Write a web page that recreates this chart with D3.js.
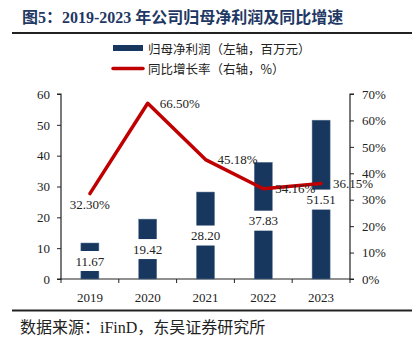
<!DOCTYPE html>
<html>
<head>
<meta charset="utf-8">
<script src="https://cdn.jsdelivr.net/npm/d3@7"></script>
<style>
  body { margin: 0; background: #fff; }
  svg text { font-family: "Liberation Serif", "Noto Sans CJK SC", serif; }
</style>
</head>
<body>
<svg id="chart"></svg>
<script>
var years = ['2019', '2020', '2021', '2022', '2023']
var profit = [11.67, 19.42, 28.20, 37.83, 51.51]
var growth = [32.30, 66.50, 45.18, 34.16, 36.15]
var leftTicks = [0, 10, 20, 30, 40, 50, 60]
var rightTicks = [0, 10, 20, 30, 40, 50, 60, 70]

var width = 414, height = 343
var plotL = 61, plotR = 350, plotT = 94, plotB = 279
var navy = '#17375e', red = '#c00000'

var svg = d3.select('#chart').attr('width', width).attr('height', height)

// title + rules
svg.append('text')
    .attr('x', 22).attr('y', 23)
    .attr('font-size', 16).attr('font-weight', 'bold')
    .attr('fill', '#1f3864')
    .text('图5：2019-2023 年公司归母净利润及同比增速')
svg.append('line').attr('x1', 12).attr('x2', 412).attr('y1', 33).attr('y2', 33)
    .attr('stroke', '#222').attr('stroke-width', 2)
svg.append('line').attr('x1', 12).attr('x2', 412).attr('y1', 310.5).attr('y2', 310.5)
    .attr('stroke', '#222').attr('stroke-width', 2)
svg.append('text')
    .attr('x', 20).attr('y', 332.5)
    .attr('font-size', 16).attr('fill', '#222')
    .text('数据来源：iFinD，东吴证券研究所')

// legend
var lg = svg.append('g').attr('font-size', 12.5).attr('fill', '#222')
lg.append('rect').attr('x', 113).attr('y', 45).attr('width', 30).attr('height', 6).attr('fill', navy)
lg.append('text').attr('x', 148).attr('y', 53.5).style('font-family', '"Noto Sans CJK SC"').text('归母净利润（左轴，百万元）')
lg.append('line').attr('x1', 113).attr('x2', 143).attr('y1', 68.5).attr('y2', 68.5)
    .attr('stroke', red).attr('stroke-width', 3.5).attr('stroke-linecap', 'round')
lg.append('text').attr('x', 148).attr('y', 73.5).style('font-family', '"Noto Sans CJK SC"').text('同比增长率（右轴，%）')

var x = d3.scaleBand().domain(years).range([plotL, plotR])
var y = d3.scaleLinear().domain([0, 60]).range([plotB, plotT])
var y2 = d3.scaleLinear().domain([0, 70]).range([plotB, plotT])

// axes
var ax = svg.append('g').attr('transform', 'translate(' + plotL + ',0)')
    .call(d3.axisLeft(y).tickValues(leftTicks).tickSize(4).tickPadding(7))
var ax2 = svg.append('g').attr('transform', 'translate(' + plotR + ',0)')
    .call(d3.axisRight(y2).tickValues(rightTicks).tickSize(4).tickPadding(8).tickFormat(d => d + '%'))
var xb = svg.append('g').attr('transform', 'translate(0,' + plotB + ')')
    .call(d3.axisBottom(x).tickSize(0).tickPadding(14))
xb.selectAll('.tick').append('line')
    .attr('x1', x.bandwidth() / 2).attr('x2', x.bandwidth() / 2).attr('y1', 0).attr('y2', 4)
    .attr('stroke', '#222')
xb.append('line').attr('x1', plotL).attr('x2', plotL).attr('y1', 0).attr('y2', 4).attr('stroke', '#222')

;[ax, ax2, xb].forEach(function(a) {
    a.select('.domain').attr('stroke', '#222').attr('stroke-width', 1.2)
    a.selectAll('.tick line').attr('stroke', '#222')
    a.selectAll('text').attr('font-size', 13).attr('fill', '#222')
        .style('font-family', '"Liberation Serif", serif')
})
ax.select('.domain').attr('d', 'M-4,' + plotT + 'H0V' + plotB + 'H-4')
ax2.select('.domain').attr('d', 'M4,' + plotT + 'H0V' + plotB + 'H4')
xb.select('.domain').attr('d', 'M' + (plotL - 1) + ',0H' + plotR)

// bars
var bw = 18
var bars = svg.append('g')
bars.selectAll('rect.bar').data(profit).enter().append('rect')
    .attr('class', 'bar')
    .attr('x', (d, i) => x(years[i]) + x.bandwidth() / 2 - bw / 2)
    .attr('width', bw)
    .attr('y', d => y(d))
    .attr('height', d => plotB - y(d))
    .attr('fill', navy)
    .attr('stroke', '#5a7394').attr('stroke-width', 0.5)

var bl = svg.append('g')
bl.selectAll('rect').data(profit).enter().append('rect')
    .attr('x', (d, i) => x(years[i]) + x.bandwidth() / 2 - bw / 2 - 2)
    .attr('width', bw + 4)
    .attr('y', d => (y(d) + plotB) / 2 - 10)
    .attr('height', 20)
    .attr('fill', '#fff')
bl.selectAll('text').data(profit).enter().append('text')
    .attr('x', (d, i) => x(years[i]) + x.bandwidth() / 2)
    .attr('y', d => (y(d) + plotB) / 2 + 4.5)
    .attr('text-anchor', 'middle')
    .attr('font-size', 13).attr('fill', '#222')
    .text(d => d.toFixed(2))

// growth line
var line = d3.line()
    .x((d, i) => x(years[i]) + x.bandwidth() / 2)
    .y(d => y2(d))
svg.append('path').datum(growth)
    .attr('d', line)
    .attr('fill', 'none').attr('stroke', red).attr('stroke-width', 3.5)
    .attr('stroke-linejoin', 'round').attr('stroke-linecap', 'round')

svg.append('g').selectAll('text').data(growth).enter().append('text')
    .attr('x', (d, i) => x(years[i]) + x.bandwidth() / 2 + (i === 0 ? 0 : 12))
    .attr('y', (d, i) => y2(d) + (i === 0 ? 15 : 4.5))
    .attr('text-anchor', (d, i) => i === 0 ? 'middle' : 'start')
    .attr('font-size', 13).attr('fill', '#222')
    .text(d => d.toFixed(2) + '%')
</script>
</body>
</html>
